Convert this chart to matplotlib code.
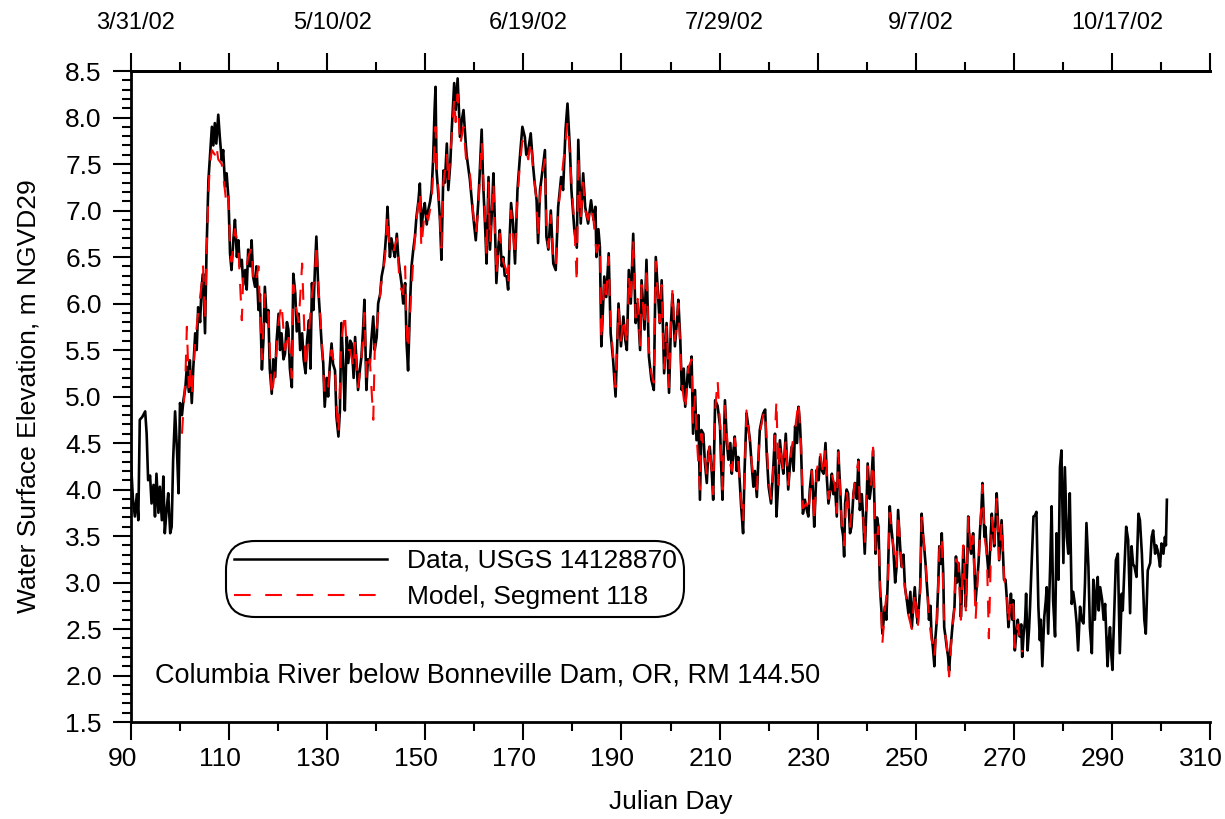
#!/usr/bin/env python3

from __future__ import annotations

import matplotlib

matplotlib.use("Agg")
import matplotlib.pyplot as plt
from matplotlib.lines import Line2D
from matplotlib.ticker import MultipleLocator, FixedLocator, FuncFormatter
from matplotlib.transforms import ScaledTranslation

plt.rcParams["font.family"] = ["Liberation Sans", "DejaVu Sans"]

# USGS 14128870 water surface elevation
data_days = [
    90.0, 90.4, 90.8, 91.2, 91.5, 91.8, 92.3, 92.9, 93.2, 93.5, 93.9, 94.2, 94.6, 94.9, 95.2, 95.6,
    95.9, 96.3, 96.6, 96.9, 97.3, 97.6, 98.0, 98.3, 98.6, 99.0, 99.4, 99.7, 100.0, 100.4, 100.7, 101.1,
    101.4, 101.8, 102.0, 102.4, 102.7, 103.1, 103.4, 103.7, 104.1, 104.4, 104.7, 105.1, 105.4, 105.8, 106.1, 106.5,
    106.8, 107.1, 107.4, 107.8, 108.1, 108.5, 108.8, 109.2, 109.5, 109.9, 110.2, 110.5, 110.9, 111.2, 111.6, 111.9,
    112.2, 112.6, 112.9, 113.3, 113.6, 113.9, 114.3, 114.6, 114.9, 115.3, 115.6, 116.0, 116.3, 116.7, 117.0, 117.3,
    117.7, 118.0, 118.3, 118.7, 119.0, 119.4, 119.7, 120.1, 120.4, 120.7, 121.1, 121.4, 121.8, 122.1, 122.4, 122.8,
    123.1, 123.5, 123.8, 124.2, 124.5, 124.9, 125.2, 125.6, 125.9, 126.3, 126.6, 126.9, 127.2, 127.5, 127.8, 128.2,
    128.5, 128.9, 129.2, 129.5, 129.9, 130.2, 130.5, 130.9, 131.2, 131.6, 131.9, 132.3, 132.6, 132.9, 133.3, 133.6,
    134.0, 134.3, 134.7, 135.0, 135.4, 135.7, 136.0, 136.3, 136.7, 137.0, 137.3, 137.6, 138.0, 138.3, 138.7, 139.0,
    139.4, 139.7, 140.1, 140.4, 140.8, 141.1, 141.5, 141.8, 142.1, 142.3, 142.8, 143.1, 143.5, 143.8, 144.2, 144.5,
    144.8, 145.2, 145.5, 145.9, 146.2, 146.5, 146.9, 147.2, 147.6, 147.9, 148.2, 148.6, 148.9, 149.2, 149.6, 149.9,
    150.3, 150.6, 151.0, 151.3, 151.6, 151.9, 152.1, 152.3, 152.7, 153.0, 153.3, 153.7, 154.0, 154.4, 154.7, 155.1,
    155.4, 155.9, 156.2, 156.6, 157.1, 157.4, 157.8, 158.1, 158.4, 158.8, 159.1, 159.5, 159.8, 160.3, 160.8, 161.1,
    161.5, 161.8, 162.2, 162.5, 162.9, 163.2, 163.6, 163.9, 164.2, 164.5, 164.9, 165.2, 165.6, 165.9, 166.2, 166.6,
    166.9, 167.2, 167.5, 167.9, 168.3, 168.8, 169.3, 169.8, 170.3, 170.6, 171.0, 171.5, 172.0, 172.3, 172.7, 173.0,
    173.4, 173.9, 174.4, 174.7, 175.1, 175.6, 176.1, 176.6, 177.1, 177.7, 178.1, 178.6, 179.0, 179.5, 179.8, 180.4,
    180.9, 181.2, 181.7, 182.2, 182.6, 183.2, 183.8, 184.3, 184.7, 184.9, 185.3, 185.6, 185.9, 186.2, 186.5, 186.9,
    187.4, 187.8, 188.3, 188.8, 189.1, 189.4, 189.9, 190.4, 190.8, 191.1, 191.5, 191.9, 192.4, 192.9, 193.3, 193.8,
    194.1, 194.7, 195.1, 195.6, 196.1, 196.6, 197.0, 197.4, 197.8, 198.2, 198.7, 199.2, 199.7, 200.1, 200.4, 200.9,
    201.3, 201.6, 202.0, 202.3, 202.7, 203.0, 203.3, 203.6, 204.0, 204.3, 204.6, 205.0, 205.3, 205.7, 206.0, 206.3,
    206.7, 207.0, 207.4, 207.7, 208.0, 208.4, 208.7, 209.1, 209.6, 210.1, 210.3, 210.6, 211.1, 211.5, 211.8, 212.2,
    212.5, 212.8, 213.1, 213.5, 213.8, 214.1, 214.4, 214.8, 215.1, 215.5, 215.8, 216.2, 216.5, 216.9, 217.2, 217.6,
    217.9, 218.2, 218.6, 218.9, 219.3, 219.6, 220.0, 220.5, 221.0, 221.3, 221.6, 222.0, 222.3, 222.7, 223.0, 223.5,
    224.0, 224.4, 224.7, 225.1, 225.4, 225.8, 226.1, 226.4, 226.6, 227.0, 227.4, 227.7, 228.1, 228.4, 228.8, 229.1,
    229.3, 229.6, 229.8, 230.2, 230.5, 230.9, 231.2, 231.6, 231.9, 232.2, 232.6, 232.9, 233.2, 233.5, 233.9, 234.2,
    234.6, 234.9, 235.2, 235.4, 235.6, 235.9, 236.2, 236.6, 236.9, 237.3, 237.6, 238.0, 238.3, 238.6, 239.0, 239.3,
    239.6, 240.0, 240.2, 240.6, 240.9, 241.3, 241.6, 241.8, 242.1, 242.4, 242.7, 243.0, 243.2, 243.7, 244.0, 244.3,
    244.7, 245.0, 245.4, 245.8, 246.1, 246.4, 246.8, 247.1, 247.5, 247.8, 248.2, 248.5, 248.9, 249.2, 249.5, 249.8,
    250.1, 250.4, 250.9, 251.2, 251.5, 251.7, 252.0, 252.2, 252.5, 252.7, 253.0, 253.2, 253.5, 253.8, 254.0, 254.3,
    254.6, 254.8, 255.1, 255.3, 255.6, 255.8, 256.1, 256.3, 256.6, 256.8, 257.1, 257.3, 257.6, 257.9, 258.2, 258.4,
    258.7, 259.0, 259.2, 259.5, 259.7, 260.0, 260.2, 260.5, 260.7, 261.0, 261.3, 261.5, 261.7, 262.0, 262.2, 262.5,
    262.8, 263.1, 263.4, 263.6, 264.0, 264.2, 264.5, 264.9, 265.2, 265.5, 265.8, 266.0, 266.3, 266.5, 266.8, 267.0,
    267.3, 267.5, 267.8, 268.0, 268.3, 268.6, 268.9, 269.2, 269.4, 269.7, 269.9, 270.2, 270.5, 270.8, 271.0, 271.2,
    271.5, 271.7, 272.0, 272.3, 272.5, 272.8, 273.1, 273.3, 273.6, 274.0, 274.3, 274.6, 275.0, 275.3, 275.5, 275.8,
    276.2, 276.5, 276.7, 277.0, 277.4, 277.7, 278.0, 278.4, 278.7, 279.1, 279.4, 279.7, 280.1, 280.4, 280.8, 281.1,
    281.4, 281.8, 282.1, 282.5, 282.8, 283.1, 283.5, 283.8, 284.2, 284.5, 284.8, 285.2, 285.5, 285.9, 286.2, 286.5,
    286.8, 287.1, 287.3, 287.6, 288.0, 288.3, 288.6, 289.1, 289.4, 289.6, 289.9, 290.1, 290.5, 290.8, 291.2, 291.6,
    292.0, 292.2, 292.5, 292.9, 293.3, 293.7, 294.0, 294.3, 294.6, 295.0, 295.4, 295.7, 296.1, 296.6, 296.9, 297.3,
    297.8, 298.1, 298.4, 298.8, 299.0, 299.3, 299.6, 299.8, 300.1, 300.5, 300.8, 301.0, 301.2,
]
data_elev = [
    4.30, 3.90, 3.71, 3.95, 3.67, 4.75, 4.78, 4.84, 4.60, 4.10, 4.15, 3.85, 4.05, 3.71, 4.17, 3.75,
    4.03, 3.67, 4.14, 3.53, 3.80, 3.96, 3.53, 3.60, 4.32, 4.84, 4.40, 3.96, 4.93, 4.80, 4.96, 5.10,
    5.32, 5.05, 5.39, 4.93, 5.30, 5.68, 5.50, 5.96, 5.80, 6.18, 6.32, 5.68, 6.54, 7.33, 7.58, 7.90,
    7.70, 7.94, 7.72, 8.03, 7.80, 7.54, 7.65, 7.26, 7.40, 7.11, 6.54, 6.36, 6.70, 6.90, 6.50, 6.68,
    6.40, 6.47, 6.20, 6.36, 6.15, 6.58, 6.40, 6.68, 6.29, 6.18, 6.40, 5.93, 6.10, 5.29, 5.60, 6.18,
    5.80, 5.93, 5.30, 5.03, 5.40, 5.21, 5.60, 5.89, 5.50, 5.68, 5.40, 5.46, 5.80, 5.72, 5.30, 5.10,
    6.32, 6.11, 5.70, 5.89, 5.50, 5.68, 5.40, 5.25, 5.60, 5.82, 5.30, 6.22, 5.93, 6.36, 6.72, 6.15,
    5.90, 5.54, 5.36, 4.89, 5.20, 5.00, 5.30, 5.57, 5.35, 5.28, 4.78, 4.57, 4.85, 5.79, 5.30, 4.85,
    5.64, 5.36, 5.60, 5.57, 5.20, 5.64, 5.35, 5.07, 5.30, 5.43, 5.70, 6.04, 5.07, 5.40, 5.36, 5.60,
    5.86, 5.50, 5.64, 6.00, 6.10, 6.29, 6.40, 6.58, 6.80, 7.04, 6.50, 6.70, 6.58, 6.50, 6.75, 6.50,
    6.36, 6.20, 6.00, 6.22, 5.57, 5.28, 6.00, 6.40, 6.60, 6.72, 6.93, 7.10, 7.29, 6.79, 7.00, 7.08,
    6.85, 7.00, 7.10, 7.22, 7.54, 8.08, 8.33, 7.43, 7.15, 6.90, 6.47, 7.43, 7.30, 7.72, 7.22, 7.50,
    7.87, 8.37, 8.08, 8.42, 7.79, 7.95, 8.08, 7.85, 7.61, 7.45, 7.33, 7.10, 6.93, 6.68, 7.08, 7.40,
    7.87, 7.30, 6.83, 6.43, 7.36, 6.58, 7.00, 7.40, 6.86, 6.22, 6.60, 6.79, 6.40, 6.50, 6.30, 6.29,
    6.15, 6.70, 7.08, 6.86, 6.43, 7.22, 7.58, 7.90, 7.79, 7.60, 7.65, 7.83, 7.47, 7.30, 7.11, 6.65,
    7.22, 7.43, 7.65, 6.72, 6.58, 7.00, 6.43, 6.36, 7.04, 7.36, 7.22, 7.87, 8.15, 7.65, 7.22, 6.79,
    6.60, 7.76, 6.86, 7.40, 7.04, 6.86, 7.11, 6.90, 7.04, 6.50, 6.80, 6.61, 5.54, 5.90, 6.29, 6.07,
    6.54, 5.68, 5.39, 5.00, 5.50, 6.00, 5.54, 5.86, 5.60, 5.50, 6.36, 6.00, 6.75, 5.79, 6.00, 5.50,
    6.25, 5.72, 6.47, 5.43, 5.18, 5.07, 6.50, 6.15, 5.79, 6.25, 5.25, 5.79, 5.04, 5.79, 6.10, 5.54,
    5.80, 6.04, 5.60, 5.07, 5.30, 4.89, 5.10, 5.32, 5.10, 5.43, 4.60, 5.07, 4.53, 4.80, 3.89, 4.64,
    4.60, 4.30, 4.07, 4.40, 4.46, 4.20, 3.89, 4.96, 4.90, 4.68, 4.30, 3.89, 4.96, 4.50, 4.32, 4.50,
    4.17, 4.40, 4.57, 4.20, 4.35, 4.10, 3.82, 3.53, 4.20, 4.82, 4.70, 4.53, 4.30, 4.03, 4.20, 3.92,
    4.30, 4.64, 4.75, 4.82, 4.86, 4.40, 4.03, 3.85, 4.28, 4.60, 3.71, 4.10, 4.53, 4.30, 4.17, 4.60,
    4.00, 4.30, 4.46, 4.20, 4.68, 4.50, 4.89, 4.70, 4.46, 3.74, 3.89, 3.80, 3.71, 4.00, 4.21, 3.90,
    3.60, 4.00, 4.21, 4.10, 4.35, 4.20, 4.17, 4.50, 4.10, 3.85, 4.00, 4.17, 3.95, 4.07, 3.71, 4.42,
    4.00, 3.60, 3.50, 3.28, 3.85, 4.00, 3.96, 3.53, 3.60, 3.96, 4.07, 3.90, 4.32, 3.78, 3.95, 3.67,
    3.31, 3.90, 4.28, 3.90, 4.03, 4.42, 3.80, 3.31, 3.70, 3.60, 2.95, 2.70, 2.45, 2.74, 2.60, 3.03,
    3.82, 3.60, 3.39, 3.00, 3.17, 3.78, 3.40, 3.17, 3.30, 2.95, 2.80, 2.67, 2.90, 2.52, 2.75, 2.95,
    2.70, 2.56, 2.95, 3.74, 3.50, 3.39, 3.20, 3.03, 2.80, 2.60, 2.75, 2.45, 2.30, 2.10, 2.40, 2.60,
    3.00, 3.39, 3.20, 3.53, 3.10, 2.52, 2.40, 2.31, 2.20, 2.05, 2.30, 2.42, 2.60, 2.74, 3.28, 3.00,
    3.21, 3.00, 2.63, 3.00, 3.39, 3.10, 2.74, 3.20, 3.71, 3.40, 3.31, 3.45, 3.53, 3.10, 2.80, 3.00,
    3.21, 3.56, 3.80, 4.07, 3.49, 3.60, 3.31, 3.06, 3.40, 3.74, 3.50, 3.39, 3.70, 3.96, 3.60, 3.24,
    3.50, 3.67, 3.30, 3.03, 3.03, 2.80, 2.52, 2.70, 2.88, 2.60, 2.81, 2.27, 2.45, 2.60, 2.50, 2.42,
    2.55, 2.20, 2.45, 2.60, 2.88, 2.27, 2.50, 2.74, 3.17, 3.71, 3.72, 3.76, 2.74, 2.38, 2.60, 2.10,
    2.63, 2.80, 2.95, 2.45, 3.17, 3.82, 2.81, 2.42, 3.53, 3.03, 4.24, 4.42, 3.21, 4.24, 3.49, 3.31,
    3.96, 2.77, 2.90, 2.74, 2.56, 2.27, 2.74, 2.60, 2.56, 2.99, 3.64, 3.17, 2.52, 2.24, 3.03, 2.60,
    2.90, 3.06, 2.70, 2.95, 2.81, 2.60, 2.77, 2.10, 2.40, 2.52, 2.20, 2.06, 2.74, 3.24, 3.31, 2.24,
    2.88, 2.70, 3.10, 3.60, 3.46, 2.67, 3.39, 3.20, 3.17, 3.06, 3.74, 3.67, 3.31, 2.60, 2.45, 3.13,
    3.21, 3.49, 3.56, 3.31, 3.40, 3.35, 3.25, 3.17, 3.42, 3.31, 3.49, 3.40, 3.89,
]

# model, segment 118
model_days = [
    100.4, 100.7, 101.1, 101.4, 101.8, 102.0, 102.4, 103.1, 103.7, 104.4, 104.7, 105.1, 105.4, 105.8, 106.1, 106.5,
    107.1, 107.4, 107.8, 108.5, 109.2, 109.5, 109.9, 110.2, 110.5, 111.2, 111.9, 112.6, 112.9, 113.3, 113.9, 114.6,
    114.9, 115.3, 116.0, 116.7, 117.3, 118.0, 118.7, 119.4, 120.1, 120.7, 121.4, 122.1, 122.8, 123.1, 123.5, 124.2,
    124.9, 125.6, 126.3, 126.9, 127.5, 127.8, 128.2, 128.9, 129.5, 130.2, 130.9, 131.6, 131.9, 132.3, 132.9, 133.6,
    134.0, 134.7, 135.4, 135.7, 136.3, 137.0, 137.6, 138.0, 138.7, 139.4, 139.7, 140.4, 141.1, 141.8, 142.3, 142.8,
    143.5, 144.2, 144.8, 145.5, 145.9, 146.2, 146.5, 146.9, 147.6, 148.2, 148.9, 149.2, 149.9, 150.6, 151.3, 151.6,
    152.1, 152.3, 152.7, 153.3, 153.7, 154.4, 154.7, 155.4, 155.9, 156.2, 156.6, 157.1, 157.8, 158.4, 159.1, 159.8,
    160.3, 160.8, 161.5, 162.2, 162.5, 162.9, 163.2, 163.9, 164.5, 165.2, 165.9, 166.6, 166.9, 167.5, 168.3, 168.8,
    169.3, 169.8, 170.3, 171.0, 171.5, 172.0, 172.7, 173.0, 173.4, 173.9, 174.4, 174.7, 175.1, 175.6, 176.1, 176.6,
    177.1, 177.7, 178.6, 179.0, 179.5, 179.8, 180.4, 180.9, 181.2, 181.7, 182.2, 182.6, 183.2, 183.8, 184.3, 184.9,
    185.6, 185.9, 186.5, 186.9, 187.4, 187.8, 188.3, 188.8, 189.4, 189.9, 190.4, 191.1, 191.5, 191.9, 192.4, 192.9,
    193.3, 193.8, 194.1, 194.7, 195.1, 195.6, 196.1, 196.6, 197.0, 197.4, 197.8, 198.2, 198.7, 199.2, 199.7, 200.1,
    200.4, 200.9, 201.6, 202.3, 203.0, 203.6, 204.3, 204.6, 205.0, 205.3, 206.0, 206.3, 207.0, 207.4, 208.0, 208.7,
    209.1, 209.6, 210.1, 210.6, 211.1, 211.8, 212.5, 213.1, 213.8, 214.4, 214.8, 215.5, 216.2, 216.9, 217.6, 218.2,
    218.9, 219.3, 220.0, 220.5, 221.0, 221.6, 222.0, 222.3, 223.0, 223.5, 224.0, 224.7, 225.4, 226.1, 226.6, 227.0,
    227.7, 228.1, 228.8, 229.3, 229.8, 230.5, 231.2, 231.6, 232.2, 232.9, 233.5, 233.9, 234.2, 234.9, 235.4, 235.9,
    236.6, 237.3, 237.6, 238.3, 238.6, 239.3, 239.6, 240.2, 240.9, 241.3, 241.8, 242.4, 242.7, 243.2, 243.7, 244.3,
    244.7, 245.4, 246.1, 246.4, 247.1, 247.8, 248.5, 249.2, 249.8, 250.4, 250.9, 251.2, 251.7, 252.2, 252.7, 253.2,
    253.8, 254.3, 254.8, 255.3, 255.8, 256.3, 256.8, 257.3, 257.9, 258.2, 258.7, 259.2, 259.7, 260.2, 260.7, 261.3,
    261.7, 262.2, 262.8, 263.1, 263.6, 264.0, 264.5, 264.9, 265.5, 266.0, 266.5, 267.0, 267.5, 268.0, 268.6, 268.9,
    269.4, 269.9, 270.2, 270.8, 271.2, 271.7,
]
model_elev = [
    4.60, 4.85, 5.20, 5.75, 5.10, 5.30, 5.00, 5.60, 5.90, 6.20, 6.40, 5.80, 6.50, 7.20, 7.50, 7.65,
    7.60, 7.70, 7.55, 7.50, 7.20, 7.05, 7.15, 6.60, 6.45, 6.80, 6.60, 5.82, 6.30, 6.30, 6.50, 6.60,
    6.30, 6.20, 6.40, 5.40, 6.10, 5.90, 5.00, 5.30, 5.80, 6.00, 5.50, 5.70, 5.20, 6.20, 6.00, 5.80,
    6.43, 5.30, 5.70, 6.10, 6.30, 6.65, 6.20, 5.60, 5.00, 5.10, 5.50, 5.30, 4.90, 4.60, 5.60, 5.90,
    5.50, 5.50, 5.30, 5.60, 5.10, 5.40, 5.90, 5.20, 5.40, 4.75, 5.50, 5.90, 6.25, 6.50, 6.95, 6.55,
    6.55, 6.70, 6.20, 6.10, 6.40, 5.70, 5.50, 5.90, 6.50, 6.90, 7.20, 6.60, 7.00, 6.90, 7.10, 7.40,
    7.90, 7.50, 7.20, 6.60, 7.30, 7.60, 7.30, 7.80, 8.20, 7.95, 8.25, 7.70, 7.90, 7.50, 7.40, 6.95,
    6.75, 7.00, 7.75, 6.90, 6.50, 7.30, 6.65, 7.30, 6.30, 6.75, 6.45, 6.35, 6.20, 7.00, 6.50, 7.15,
    7.50, 7.75, 7.70, 7.55, 7.75, 7.45, 7.10, 6.70, 7.15, 7.40, 7.55, 6.80, 6.60, 6.95, 6.45, 6.40,
    7.00, 7.30, 7.75, 7.95, 7.60, 7.30, 6.85, 6.22, 7.60, 6.90, 7.30, 7.00, 6.90, 7.05, 6.90, 6.55,
    6.65, 5.60, 6.25, 6.10, 6.50, 5.75, 5.45, 5.10, 5.95, 5.60, 5.85, 5.55, 6.30, 6.00, 6.70, 5.85,
    6.05, 5.55, 6.20, 5.75, 6.40, 5.50, 5.25, 5.15, 6.45, 6.10, 5.80, 6.20, 5.30, 5.75, 5.10, 5.80,
    6.15, 5.60, 6.00, 5.15, 4.85, 5.30, 5.40, 4.70, 5.00, 4.60, 4.00, 4.60, 4.35, 4.15, 4.50, 3.95,
    4.85, 5.18, 4.70, 4.00, 4.90, 4.35, 4.20, 4.55, 4.30, 3.90, 3.65, 4.85, 4.50, 4.10, 4.00, 4.60,
    4.80, 4.85, 4.10, 3.90, 4.25, 4.96, 4.05, 4.50, 4.20, 4.55, 4.05, 4.45, 4.65, 4.95, 4.50, 3.80,
    3.85, 3.75, 4.20, 3.65, 4.20, 4.40, 4.15, 4.45, 3.90, 4.15, 4.05, 3.75, 4.40, 3.65, 3.40, 4.00,
    3.60, 3.95, 4.10, 4.30, 3.80, 3.70, 3.40, 4.25, 4.05, 4.45, 3.35, 3.60, 3.00, 2.35, 2.70, 3.00,
    3.75, 3.40, 3.15, 3.75, 3.20, 2.95, 2.65, 2.50, 2.90, 2.50, 2.90, 3.70, 3.40, 3.05, 2.60, 2.40,
    2.20, 2.55, 3.35, 3.50, 2.50, 2.35, 1.99, 2.40, 2.75, 3.25, 3.20, 2.60, 3.40, 2.70, 3.70, 3.30,
    3.50, 2.60, 3.20, 3.55, 4.05, 3.50, 3.30, 2.40, 3.70, 3.40, 3.90, 3.25, 3.65, 3.05, 2.85, 2.55,
    2.85, 2.75, 2.30, 2.55, 2.40, 2.25,
]

bottom_ticks = [90, 110, 130, 150, 170, 190, 210, 230, 250, 270, 290, 310]
top_tick_days = [90, 130, 170, 210, 250, 290]
top_tick_labels = ["3/31/02", "5/10/02", "6/19/02", "7/29/02", "9/7/02", "10/17/02"]

FONT_SIZE = 19
TEXT_SIZE = 19.5
TOP_FONT_SIZE = 17


def shift_labels(fig: plt.Figure, labels, dx_px: float) -> None:
    offset = ScaledTranslation(dx_px / fig.dpi, 0, fig.dpi_scale_trans)
    for label in labels:
        label.set_transform(label.get_transform() + offset)


def style_axes(fig: plt.Figure, ax: plt.Axes) -> None:
    ax.set_xlim(90, 310)
    ax.set_ylim(1.5, 8.5)

    ax.spines["right"].set_visible(False)
    for side in ("left", "bottom", "top"):
        ax.spines[side].set_linewidth(2.0)

    ax.xaxis.set_major_locator(FixedLocator(bottom_ticks))
    ax.xaxis.set_minor_locator(MultipleLocator(10))
    ax.yaxis.set_major_locator(MultipleLocator(0.5))
    ax.yaxis.set_minor_locator(MultipleLocator(0.1))
    ax.yaxis.set_major_formatter(FuncFormatter(lambda v, _: f"{v:.1f}"))

    ax.tick_params(axis="both", which="major", direction="out", length=13, width=1.5,
                   labelsize=FONT_SIZE, pad=5)
    ax.tick_params(axis="y", which="major", pad=8)
    ax.tick_params(axis="both", which="minor", direction="out", length=6.5, width=1.5)
    ax.tick_params(axis="y", which="both", right=False)

    ax.set_xlabel("Julian Day", fontsize=FONT_SIZE, labelpad=14)
    ax.set_ylabel("Water Surface Elevation, m NGVD29", fontsize=FONT_SIZE, labelpad=18)

    top = ax.secondary_xaxis("top")
    top.spines["top"].set_linewidth(2.0)
    top.xaxis.set_major_locator(FixedLocator(bottom_ticks))
    top.xaxis.set_minor_locator(MultipleLocator(10))
    label_map = dict(zip(top_tick_days, top_tick_labels))
    top.xaxis.set_major_formatter(FuncFormatter(lambda v, _: label_map.get(int(round(v)), "")))
    top.tick_params(axis="x", which="major", direction="out", length=13, width=1.5,
                    labelsize=TOP_FONT_SIZE, pad=14)
    top.tick_params(axis="x", which="minor", direction="out", length=6.5, width=1.5)

    fig.canvas.draw()
    shift_labels(fig, ax.get_xticklabels(), -9)
    shift_labels(fig, top.get_xticklabels(), 5)


def main() -> int:
    fig = plt.figure(figsize=(12.25, 8.19), dpi=100)
    ax = fig.add_axes([0.1069, 0.1184, 0.8809, 0.7949])

    ax.plot(data_days, data_elev, color="black", linewidth=1.9)
    ax.plot(model_days, model_elev, color="#ff0000", linewidth=1.5, linestyle=(0, (8, 7)))

    style_axes(fig, ax)

    handles = [
        Line2D([], [], color="black", linewidth=1.8),
        Line2D([], [], color="#ff0000", linewidth=1.5, linestyle=(0, (8, 7))),
    ]
    leg = ax.legend(
        handles,
        ["Data, USGS 14128870", "Model, Segment 118"],
        loc="upper left",
        bbox_to_anchor=(0.088, 0.278),
        fontsize=FONT_SIZE,
        handlelength=5.8,
        handletextpad=0.75,
        borderpad=0.3,
        labelspacing=0.45,
        borderaxespad=0.0,
        fancybox=True,
        framealpha=1.0,
        edgecolor="black",
    )
    leg.get_frame().set_linewidth(1.5)
    leg.get_frame().set_boxstyle("round", pad=0.0, rounding_size=1.1)

    ax.text(95.0, 2.0, "Columbia River below Bonneville Dam, OR, RM 144.50",
            fontsize=TEXT_SIZE, ha="left", va="center")

    fig.savefig("out.png", dpi=100)
    plt.close(fig)
    return 0


if __name__ == "__main__":
    raise SystemExit(main())
